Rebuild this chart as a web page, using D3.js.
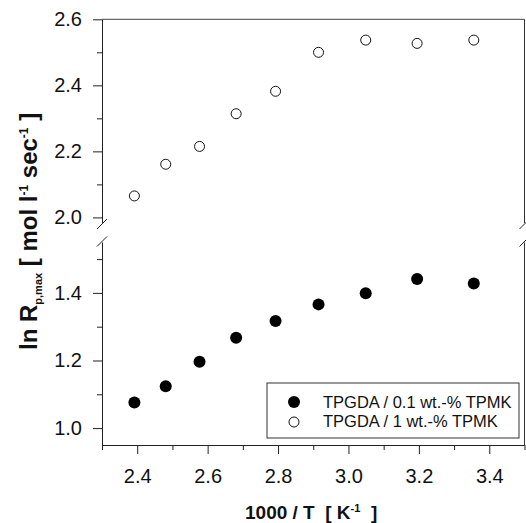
<!DOCTYPE html>
<html>
<head>
<meta charset="utf-8">
<script src="https://cdn.jsdelivr.net/npm/d3@7"></script>
<style>
  html, body { margin: 0; padding: 0; background: #fff; }
  svg { display: block; font-family: "Liberation Sans", Arial, Helvetica, sans-serif; }
  text { white-space: pre; }
</style>
</head>
<body>
<svg id="chart" width="526" height="523"></svg>
<script>
// ---- data ----
const invT = [2.392, 2.481, 2.577, 2.681, 2.793, 2.915, 3.049, 3.195, 3.356];
const series01 = [1.076, 1.124, 1.196, 1.267, 1.317, 1.366, 1.399, 1.441, 1.428]; // TPGDA / 0.1 wt.-% TPMK (filled)
const series1  = [2.065, 2.161, 2.215, 2.314, 2.382, 2.500, 2.537, 2.527, 2.537]; // TPGDA / 1 wt.-% TPMK (open)
const legendLabels = ["TPGDA / 0.1 wt.-% TPMK", "TPGDA / 1 wt.-% TPMK"];
const xMajorTicks = [2.4, 2.6, 2.8, 3.0, 3.2, 3.4];
const xMinorTicks = [2.3, 2.5, 2.7, 2.9, 3.1, 3.3, 3.5];
const yUpperMajor = [2.0, 2.2, 2.4, 2.6];
const yUpperMinor = [2.1, 2.3, 2.5];
const yLowerMajor = [1.0, 1.2, 1.4];
const yLowerMinor = [1.1, 1.3, 1.5];

const svg = d3.select("#chart");
const left = 102, right = 524.5;
const x = d3.scaleLinear().domain([2.3, 3.5]).range([left, right]);
const yU = d3.scaleLinear().domain([1.98, 2.6]).range([224, 19.3]);
const yL = d3.scaleLinear().domain([0.95, 1.552]).range([445, 241.5]);
const fmt = d3.format(".1f");

function styleAxis(g) {
  g.selectAll("path.domain").attr("stroke", "#222").attr("stroke-width", 1);
  g.selectAll(".tick line").attr("stroke", "#222").attr("stroke-width", 1);
  g.selectAll(".tick text").attr("fill", "#111").style("font-size", "20px")
    .style("font-family", "'Liberation Sans', Arial, sans-serif");
}

// frame top and right
svg.append("line").attr("x1", left).attr("x2", right).attr("y1", yU(2.6)).attr("y2", yU(2.6))
  .attr("stroke", "#444").attr("stroke-width", 1);
svg.append("line").attr("x1", right).attr("x2", right).attr("y1", yU(2.6)).attr("y2", yU.range()[0])
  .attr("stroke", "#333").attr("stroke-width", 1);
svg.append("line").attr("x1", right).attr("x2", right).attr("y1", yL.range()[1]).attr("y2", yL.range()[0])
  .attr("stroke", "#333").attr("stroke-width", 1);

// left axes upper
svg.append("g").attr("transform", `translate(${left},0)`)
  .call(d3.axisLeft(yU).tickValues(yUpperMajor).tickFormat(fmt).tickSize(9).tickPadding(11).tickSizeOuter(0))
  .call(styleAxis);
svg.append("g").attr("transform", `translate(${left},0)`)
  .call(d3.axisLeft(yU).tickValues(yUpperMinor).tickFormat("").tickSize(5).tickSizeOuter(0))
  .call(g => g.select("path.domain").remove()).call(styleAxis);
// left axes lower
svg.append("g").attr("transform", `translate(${left},0)`)
  .call(d3.axisLeft(yL).tickValues(yLowerMajor).tickFormat(fmt).tickSize(9).tickPadding(11).tickSizeOuter(0))
  .call(styleAxis);
svg.append("g").attr("transform", `translate(${left},0)`)
  .call(d3.axisLeft(yL).tickValues(yLowerMinor).tickFormat("").tickSize(5).tickSizeOuter(0))
  .call(g => g.select("path.domain").remove()).call(styleAxis);

// bottom axis
svg.append("g").attr("transform", `translate(0,${yL.range()[0]})`)
  .call(d3.axisBottom(x).tickValues(xMajorTicks).tickFormat(fmt).tickSize(9).tickPadding(15).tickSizeOuter(0))
  .call(styleAxis);
svg.append("g").attr("transform", `translate(0,${yL.range()[0]})`)
  .call(d3.axisBottom(x).tickValues(xMinorTicks).tickFormat("").tickSize(5).tickSizeOuter(0))
  .call(g => g.select("path.domain").remove()).call(styleAxis);

// axis break marks
[[left, 224], [left, 241.5], [right, 224], [right, 241.5]].forEach(([cx, cy]) => {
  svg.append("rect").attr("x", cx - 2).attr("y", cy - 1).attr("width", 4).attr("height", 2).attr("fill", "#fff");
  svg.append("line").attr("x1", cx - 5).attr("y1", cy + 5).attr("x2", cx + 5).attr("y2", cy - 5)
    .attr("stroke", "#222").attr("stroke-width", 1);
});

// points
svg.append("g").selectAll("circle").data(invT.map((v, i) => [v, series1[i]])).join("circle")
  .attr("cx", d => x(d[0])).attr("cy", d => yU(d[1])).attr("r", 5)
  .attr("fill", "#fff").attr("stroke", "#111").attr("stroke-width", 1);
svg.append("g").selectAll("circle").data(invT.map((v, i) => [v, series01[i]])).join("circle")
  .attr("cx", d => x(d[0])).attr("cy", d => yL(d[1])).attr("r", 6)
  .attr("fill", "#000");

// legend
const lg = svg.append("g");
lg.append("rect").attr("x", 267).attr("y", 383).attr("width", 252).attr("height", 55)
  .attr("fill", "#fff").attr("stroke", "#333").attr("stroke-width", 1);
lg.append("circle").attr("cx", 294).attr("cy", 402).attr("r", 6).attr("fill", "#000");
lg.append("circle").attr("cx", 294).attr("cy", 422).attr("r", 5).attr("fill", "#fff").attr("stroke", "#111");
legendLabels.forEach((t, i) => {
  lg.append("text").attr("x", 323).attr("y", 408 + i * 19)
    .style("font-size", "16.5px").attr("fill", "#111").text(t);
});

// x title
const xt = svg.append("text").attr("x", 245).attr("y", 519)
  .style("font-size", "19px").style("font-weight", "bold").attr("fill", "#111");
xt.append("tspan").text("1000 / T  [ K");
xt.append("tspan").attr("dy", -7).style("font-size", "11px").text("-1");
xt.append("tspan").attr("dy", 7).text("  ]");

// y title
const yt = svg.append("text").attr("transform", "translate(37,350) rotate(-90)")
  .style("font-size", "24px").style("font-weight", "bold").attr("fill", "#111");
yt.append("tspan").text("ln R");
yt.append("tspan").attr("dy", 5).style("font-size", "11px").text("p,max");
yt.append("tspan").attr("dy", -5).text(" [ mol l");
yt.append("tspan").attr("dy", -9).style("font-size", "12px").text("-1");
yt.append("tspan").attr("dy", 9).text(" sec");
yt.append("tspan").attr("dy", -9).style("font-size", "12px").text("-1");
yt.append("tspan").attr("dy", 9).text(" ]");
</script>
</body>
</html>
